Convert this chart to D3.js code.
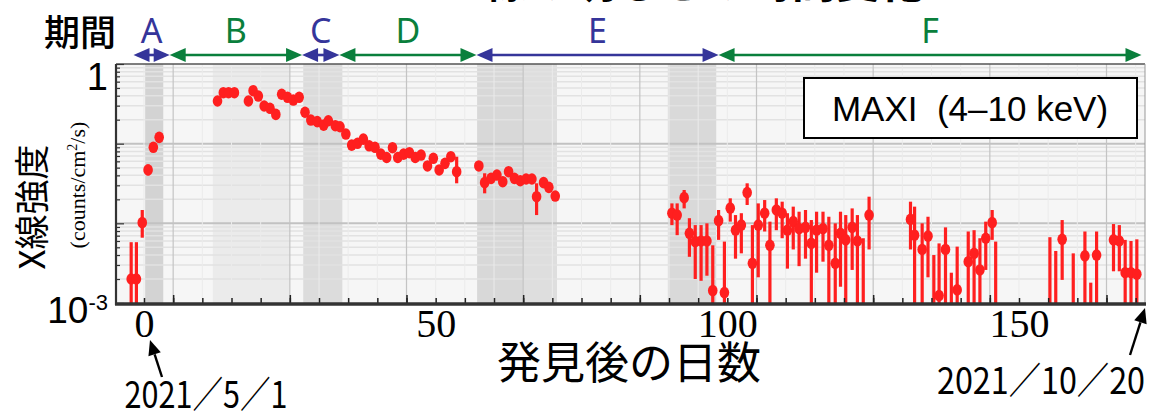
<!DOCTYPE html>
<html><head><meta charset="utf-8">
<script src="https://cdn.jsdelivr.net/npm/d3@7"></script>
<style>html,body{margin:0;padding:0;background:#fff;overflow:hidden}</style>
</head><body>
<svg id="chart" width="1150" height="411"></svg>
<script>
// MAXI (4–10 keV) light curve: days after discovery (2021/5/1), flux in counts/cm^2/s,
// upper / lower ends of the error bars (null = bar hidden by the marker).
// A null flux means the point lies below the axis and only its bar is visible.
const days = [
  -2.2, -1.3, -0.3, 0.7, 1.6, 2.6,
  12.6, 13.6, 14.5, 15.5, 17.9, 18.7, 19.6, 20.6, 21.6, 22.6, 23.6, 24.6, 25.6, 26.6,
  27.6, 28.6, 29.7, 30.8, 31.6, 32.8, 33.6, 34.6, 35.6, 36.6, 37.6, 38.6, 39.6, 40.6,
  41.6, 42.6, 43.5, 44.5, 45.5, 46.5, 47.5, 48.6, 49.6, 50.6, 51.6, 52.6, 53.6,
  57.4, 58.4, 59.5, 60.5, 61.5, 62.5, 63.5, 64.5, 65.5, 66.5, 67.3, 68.5, 69.4, 70.5,
  90.5, 91.4, 92.6, 93.5, 94.5, 95.5, 96.5, 97.5, 98.5, 99.5, 100.5, 101.4, 102.4, 103.4,
  104.3, 105.3, 106.4, 107.3, 108.4, 109.4, 110.3, 111.3, 112.3, 113.4, 114.4, 115.3,
  116.4, 117.4, 118.5, 119.4, 120.3, 121.4, 122.3, 123.3, 124.3,
  131.4, 132.1, 133.4, 134.4, 135.4, 136.3, 137.4, 138.4, 139.4, 141.3, 142.3, 143.3,
  144.3, 145.4, 146.0, 155.3, 156.3, 157.4, 159.3, 161.3, 162.3, 163.3, 166.2, 167.2,
  168.2, 169.2, 170.2
];
const flux = [
  0.0020, 0.0020, 0.0102, 0.0468, 0.090, 0.120,
  0.343, 0.436, 0.436, 0.436, 0.343, 0.462, 0.396, 0.297, 0.278, 0.233, 0.417, 0.382, 0.353, 0.382,
  0.248, 0.198, 0.189, 0.171, 0.194, 0.168, 0.163, 0.132, 0.096, 0.101, 0.114, 0.094, 0.090, 0.074,
  0.067, 0.089, 0.067, 0.074, 0.077, 0.067, 0.072, 0.0525, 0.0655, 0.0468, 0.0566, 0.0686, 0.0445,
  0.0525, 0.0324, 0.0367, 0.0404, 0.0333, 0.0445, 0.0367, 0.0343, 0.036, 0.036, 0.0216, 0.0324, 0.0283, 0.022,
  0.0134, 0.0127, 0.021, 0.0075, 0.0059, 0.006, 0.006, 0.00143, 0.0108, 0.00135, 0.0155, 0.0082, 0.0095, 0.0243,
  0.00315, 0.0095, 0.0134, 0.0053, 0.0147, 0.0134, 0.0082, 0.0105, 0.0086, 0.0089, 0.0056, 0.0082,
  0.0086, 0.0053, 0.00315, 0.0075, 0.0062, 0.0089, 0.006, null, 0.0127,
  0.0112, 0.0071, 0.0047, 0.0069, null, 0.00124, 0.0047, null, 0.00146, 0.0033, 0.0042, 0.0026,
  0.0065, 0.0102, null, null, null, 0.0063, null, 0.0039, null, 0.004, 0.0062, 0.006,
  0.0024, 0.0024, 0.0023
];
const fluxHi = [
  0.0058, 0.0058, 0.0147, 0.055, null, null,
  null, null, null, null, null, null, null, null, null, null, null, null, null, null,
  null, null, null, null, null, null, null, null, null, null, null, null, null, null,
  null, null, null, null, null, null, null, null, null, null, null, null, 0.0686,
  0.060, 0.0425, null, null, null, null, null, null, null, null, 0.0318, null, null, null,
  0.0178, 0.0178, 0.0262, 0.0116, 0.0095, 0.0095, 0.0100, 0.0053, 0.0147, 0.0059, 0.0206, 0.0127, 0.0134, 0.0318,
  0.0095, 0.0178, 0.0196, 0.0105, 0.0206, 0.0187, 0.0134, 0.0162, 0.0140, 0.0147, 0.0110, 0.0140,
  0.0140, 0.0121, 0.0100, 0.0140, 0.0127, 0.0154, 0.0127, 0.0065, 0.0216,
  0.0187, 0.0162, 0.0100, 0.0121, 0.0040, 0.0056, 0.0089, 0.0024, 0.0051, 0.0079, 0.0082, 0.0065,
  0.0105, 0.0147, 0.0059, 0.0067, 0.0045, 0.0110, 0.0042, 0.0079, 0.0018, 0.0079, 0.0098, 0.0095,
  0.0062, 0.0060, 0.0063
];
const fluxLo = [
  0.0005, 0.0005, 0.0066, 0.040, null, null,
  null, null, null, null, null, null, null, null, null, null, null, null, null, null,
  null, null, null, null, null, null, null, null, null, null, null, null, null, null,
  null, null, null, null, null, null, null, null, null, null, null, null, 0.0318,
  0.046, 0.0238, null, null, null, null, null, null, null, null, 0.0127, null, null, null,
  0.0095, 0.0071, 0.0154, 0.0038, 0.0020, 0.0019, 0.0022, 0.0005, 0.0062, 0.0005, 0.0105, 0.0036, 0.0042, 0.0170,
  0.0005, 0.0021, 0.0079, 0.0005, 0.0082, 0.0065, 0.0027, 0.0047, 0.0029, 0.0036, 0.0005, 0.0024,
  0.0033, 0.0005, 0.0005, 0.0016, 0.0005, 0.0026, 0.0005, 0.0005, 0.0047,
  0.0047, 0.0005, 0.0005, 0.0021, 0.0005, 0.0005, 0.0005, 0.0005, 0.0005, 0.0005, 0.0005, 0.0005,
  0.0026, 0.0062, 0.0005, 0.0005, 0.0005, 0.00195, 0.0005, 0.0005, 0.0005, 0.0005, 0.0025, 0.0025,
  0.0005, 0.0005, 0.0005
];

// Observation periods A–F (days after discovery)
const periodNames = ["A", "B", "C", "D", "E", "F"];
const periodStart = [-1.8, 4.4, 27.1, 33.5, 57.0, 98.5];
const periodEnd   = [4.4, 27.1, 33.5, 57.0, 98.5, 171.0];

// Shaded background columns (days)
const bandStart = [0.2, 11.8, 27.3, 57.1, 65.0, 89.8];
const bandEnd   = [3.3, 25.0, 34.0, 65.0, 70.8, 98.1];
const bandTone  = ["#d3d3d3", "#ebebeb", "#dcdcdc", "#d8d8d8", "#dedede", "#d9d9d9"];

// Axis ticks
const xTickLabels = [0, 50, 100, 150];
const xMajorTicks = [5, 25, 45, 65, 85, 105, 125, 145, 165];
const xMinorTicks = d3.range(0, 172, 5);
const yDecades = [1e-3, 1e-2, 1e-1, 1];

const SANS = "'Liberation Sans', Arial, sans-serif";
const JP = "'Noto Sans CJK JP', 'Noto Sans', sans-serif";
const SERIF = "'Liberation Serif', 'Times New Roman', serif";
const NOTO = "'Noto Sans', 'Open Sans', sans-serif";
const RED = "#ff1f1f";
const BLUE = "#35359a";
const GREEN = "#0a7f3c";

const svg = d3.select("#chart");
const plot = {left: 116, right: 1145, top: 64, bottom: 303};

const x = d3.scaleLinear().domain([-4.8, 171.6]).range([plot.left, plot.right]);
const y = d3.scaleLog().domain([1e-3, 1]).range([plot.bottom, plot.top]);

const defs = svg.append("defs");
defs.append("clipPath").attr("id", "plotClip").append("rect")
  .attr("x", plot.left).attr("y", plot.top)
  .attr("width", plot.right - plot.left).attr("height", plot.bottom - plot.top);

// heading, running off the top edge
svg.append("text").attr("x", 690).attr("y", -2)
  .attr("text-anchor", "middle").attr("font-family", JP).attr("font-weight", 700)
  .attr("font-size", 44).attr("fill", "#000").text("X線の明るさの時間変化");

// plot background
const bg = svg.append("g").attr("clip-path", "url(#plotClip)");
bg.append("rect").attr("x", plot.left).attr("y", plot.top)
  .attr("width", plot.right - plot.left).attr("height", plot.bottom - plot.top)
  .attr("fill", "#f6f6f6");
bg.selectAll("rect.band").data(d3.range(bandStart.length)).join("rect")
  .attr("class", "band")
  .attr("x", i => x(bandStart[i])).attr("width", i => x(bandEnd[i]) - x(bandStart[i]))
  .attr("y", plot.top).attr("height", plot.bottom - plot.top)
  .attr("fill", i => bandTone[i]);

// grid lines
const minorY = [];
yDecades.slice(0, 3).forEach(d => { for (let k = 2; k <= 9; k++) minorY.push(d * k); });
bg.selectAll("line.ymin").data(minorY).join("line")
  .attr("x1", plot.left).attr("x2", plot.right)
  .attr("y1", d => y(d)).attr("y2", d => y(d))
  .attr("stroke", "#e2e2e2").attr("stroke-width", 1.5);
bg.selectAll("line.ydec").data(yDecades.slice(1, 3)).join("line")
  .attr("x1", plot.left).attr("x2", plot.right)
  .attr("y1", d => y(d)).attr("y2", d => y(d))
  .attr("stroke", "#c2c2c2").attr("stroke-width", 2);
bg.selectAll("line.xmin").data(xMinorTicks.filter(d => !xMajorTicks.includes(d))).join("line")
  .attr("x1", d => x(d)).attr("x2", d => x(d))
  .attr("y1", plot.top).attr("y2", plot.bottom)
  .attr("stroke", "#ebebeb").attr("stroke-width", 1);
bg.selectAll("line.xmaj").data(xMajorTicks).join("line")
  .attr("x1", d => x(d)).attr("x2", d => x(d))
  .attr("y1", plot.top).attr("y2", plot.bottom)
  .attr("stroke", "#c4c4c4").attr("stroke-width", 1.2);

// data
const idx = d3.range(days.length);
const data = svg.append("g").attr("clip-path", "url(#plotClip)");
data.selectAll("line.err").data(idx.filter(i => fluxHi[i] !== null)).join("line")
  .attr("x1", i => x(days[i])).attr("x2", i => x(days[i]))
  .attr("y1", i => y(fluxHi[i])).attr("y2", i => y(fluxLo[i]))
  .attr("stroke", RED).attr("stroke-width", 3.2);
data.selectAll("ellipse.pt").data(idx.filter(i => flux[i] !== null)).join("ellipse")
  .attr("cx", i => x(days[i])).attr("cy", i => y(flux[i]))
  .attr("rx", 4.8).attr("ry", 5.8).attr("fill", RED);

// frame
svg.append("line").attr("x1", plot.left).attr("x2", plot.right)
  .attr("y1", plot.top).attr("y2", plot.top).attr("stroke", "#555").attr("stroke-width", 1.6);
svg.append("line").attr("x1", plot.right).attr("x2", plot.right)
  .attr("y1", plot.top).attr("y2", plot.bottom).attr("stroke", "#999").attr("stroke-width", 1);

// bottom axis: inward ticks
const xAxisMinor = d3.axisBottom(x).tickValues(xMinorTicks).tickSize(-5).tickFormat("");
const xAxisMajor = d3.axisBottom(x).tickValues(xMajorTicks).tickSize(-8).tickFormat("");
[xAxisMinor, xAxisMajor].forEach(ax => {
  const g = svg.append("g").attr("transform", `translate(0,${plot.bottom})`).call(ax);
  g.select(".domain").remove();
  g.selectAll(".tick line").attr("stroke", "#222").attr("stroke-width", 1.5);
});
svg.append("line").attr("x1", plot.left - 1).attr("x2", plot.right + 1)
  .attr("y1", plot.bottom + 1).attr("y2", plot.bottom + 1)
  .attr("stroke", "#333").attr("stroke-width", 3.5);

const xLab = svg.append("g").attr("transform", `translate(0,${plot.bottom})`)
  .call(d3.axisBottom(x).tickValues(xTickLabels).tickSize(0).tickPadding(0));
xLab.select(".domain").remove();
xLab.selectAll(".tick text").attr("font-family", SERIF).attr("font-size", 40)
  .attr("fill", "#000").attr("dy", 0).attr("y", 34);

// left axis: inward log ticks
const yAxisMinor = d3.axisLeft(y).tickValues(minorY).tickSize(-4).tickFormat("");
const yAxisMajor = d3.axisLeft(y).tickValues(yDecades).tickSize(-8).tickFormat("");
[yAxisMinor, yAxisMajor].forEach(ax => {
  const g = svg.append("g").attr("transform", `translate(${plot.left},0)`).call(ax);
  g.select(".domain").remove();
  g.selectAll(".tick line").attr("stroke", "#333").attr("stroke-width", 1.2);
});
svg.append("line").attr("x1", plot.left).attr("x2", plot.left)
  .attr("y1", plot.top).attr("y2", plot.bottom + 2)
  .attr("stroke", "#333").attr("stroke-width", 2.2);

// y tick labels
svg.append("text").attr("x", 108).attr("y", y(1) + 26).attr("text-anchor", "end")
  .attr("font-family", SANS).attr("font-size", 38).attr("fill", "#000").text("1");
const yl = svg.append("text").attr("x", 108).attr("y", y(1e-3) + 20).attr("text-anchor", "end")
  .attr("font-family", SANS).attr("font-size", 37).attr("fill", "#000");
yl.append("tspan").text("10");
yl.append("tspan").attr("font-size", 22).attr("dy", -13).text("-3");

// y axis title
svg.append("text").attr("transform", "translate(45,207) rotate(-90)")
  .attr("text-anchor", "middle").attr("font-family", JP).attr("font-size", 35)
  .attr("fill", "#000").text("X線強度");
const yunit = svg.append("text").attr("transform", "translate(85,185) rotate(-90)")
  .attr("text-anchor", "middle").attr("font-family", SERIF).attr("font-size", 22)
  .attr("fill", "#000");
yunit.append("tspan").text("(counts/cm");
yunit.append("tspan").attr("font-size", 14).attr("dy", -8).text("2");
yunit.append("tspan").attr("dy", 8).text("/s)");

// x axis title
svg.append("text").attr("x", 629).attr("y", 379).attr("text-anchor", "middle")
  .attr("font-family", JP).attr("font-size", 44).attr("fill", "#000").text("発見後の日数");

// period arrows
svg.append("text").attr("x", 80).attr("y", 46).attr("text-anchor", "middle")
  .attr("font-family", JP).attr("font-size", 36).attr("font-weight", 500)
  .attr("fill", "#000").text("期間");
const arrowY = 55, headL = 16, headH = 7;
const pg = svg.append("g");
d3.range(periodNames.length).forEach(i => {
  const c = (i % 2 === 0) ? BLUE : GREEN;
  const x0 = x(periodStart[i]), x1 = x(periodEnd[i]);
  pg.append("line").attr("x1", x0 + 4).attr("x2", x1 - 4)
    .attr("y1", arrowY).attr("y2", arrowY).attr("stroke", c).attr("stroke-width", 2.6);
  pg.append("path").attr("fill", c)
    .attr("d", `M${x0},${arrowY} L${x0 + headL},${arrowY - headH} L${x0 + headL},${arrowY + headH} Z`);
  pg.append("path").attr("fill", c)
    .attr("d", `M${x1},${arrowY} L${x1 - headL},${arrowY - headH} L${x1 - headL},${arrowY + headH} Z`);
  pg.append("text").attr("x", (x0 + x1) / 2).attr("y", 43).attr("text-anchor", "middle")
    .attr("font-family", NOTO).attr("font-size", 34).attr("fill", c).text(periodNames[i]);
});

// instrument label box
svg.append("rect").attr("x", 804).attr("y", 78).attr("width", 333).attr("height", 60)
  .attr("fill", "#fff").attr("stroke", "#000").attr("stroke-width", 2);
svg.append("text").attr("x", 970).attr("y", 121).attr("text-anchor", "middle")
  .attr("font-family", SANS).attr("font-size", 35).attr("fill", "#000")
  .attr("xml:space", "preserve").text("MAXI  (4–10 keV)");

// date annotations with arrows
function pointer(xt, yt, xs, ys) {
  const ang = Math.atan2(yt - ys, xt - xs);
  const L = 15, Wd = 6.5;
  const bx = xt - L * Math.cos(ang), by = yt - L * Math.sin(ang);
  svg.append("line").attr("x1", xs).attr("y1", ys).attr("x2", bx).attr("y2", by)
    .attr("stroke", "#000").attr("stroke-width", 2.4);
  svg.append("path").attr("fill", "#000").attr("d",
    `M${xt},${yt} L${bx + Wd * Math.sin(ang)},${by - Wd * Math.cos(ang)} L${bx - Wd * Math.sin(ang)},${by + Wd * Math.cos(ang)} Z`);
}
pointer(x(0) + 6, 340, x(0) + 18, 377);
svg.append("text").attr("x", 206).attr("y", 408).attr("text-anchor", "middle")
  .attr("font-family", JP).attr("font-size", 37).attr("fill", "#000")
  .attr("textLength", 163).attr("lengthAdjust", "spacingAndGlyphs").text("2021／5／1");
pointer(plot.right, 308, 1130, 355);
svg.append("text").attr("x", 1041).attr("y", 394).attr("text-anchor", "middle")
  .attr("font-family", JP).attr("font-size", 37).attr("fill", "#000")
  .attr("textLength", 208).attr("lengthAdjust", "spacingAndGlyphs").text("2021／10／20");
</script>
</body></html>
